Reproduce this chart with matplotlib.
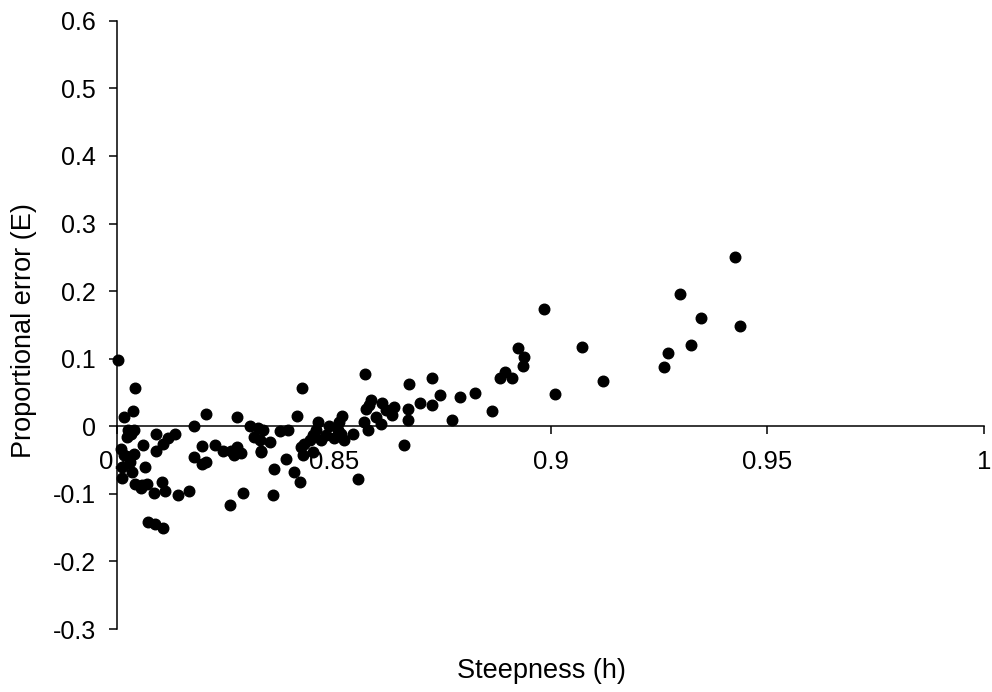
import matplotlib.pyplot as plt

plt.rcParams['font.family'] = ['Liberation Sans', 'DejaVu Sans']
plt.rcParams['axes.unicode_minus'] = False

# steepness (h) and proportional error (E)
steep = [0.8002, 0.8041, 0.8036, 0.8015, 0.8206, 0.8276, 0.8178, 0.8306, 0.8325,
         0.8026, 0.8040, 0.8022, 0.8033, 0.8089, 0.8133, 0.8118, 0.8106, 0.8059,
         0.8089, 0.8008, 0.8015, 0.8040, 0.8030, 0.8064, 0.8011, 0.8034, 0.8011,
         0.8041, 0.8057, 0.8068, 0.8055, 0.8103, 0.8086, 0.8110, 0.8141, 0.8166,
         0.8072, 0.8087, 0.8106, 0.8197, 0.8225, 0.8178, 0.8195, 0.8206, 0.8244,
         0.8262, 0.8277, 0.8270, 0.8287, 0.8290, 0.8260, 0.8316, 0.8331,
         0.8427, 0.8572, 0.8674, 0.8415, 0.8336, 0.8329, 0.8352, 0.8333, 0.8375,
         0.8394, 0.8390, 0.8363, 0.8409, 0.8421, 0.8359, 0.8463, 0.8459, 0.8451,
         0.8432, 0.8425, 0.8444, 0.8471, 0.8482, 0.8490, 0.8428, 0.8451, 0.8501,
         0.8517, 0.8520, 0.8513, 0.8524, 0.8509, 0.8545, 0.8555, 0.8570, 0.8578,
         0.8574, 0.8586, 0.8582, 0.8597, 0.8609, 0.8612, 0.8620, 0.8639, 0.8635,
         0.8670, 0.8671, 0.8662,
         0.8727, 0.8698, 0.8727, 0.8744, 0.8773, 0.8792, 0.8825, 0.8864, 0.8884,
         0.8896, 0.8911, 0.8926, 0.8938, 0.8936, 0.8984, 0.9011,
         0.9072, 0.9120, 0.9262, 0.9271, 0.9298, 0.9323, 0.9346, 0.9426, 0.9437]
error = [0.098, 0.057, 0.023, 0.014, 0.018, 0.013, 0.000, 0.000, -0.002,
         -0.006, -0.005, -0.016, -0.011, -0.012, -0.011, -0.018, -0.026, -0.027,
         -0.037, -0.033, -0.043, -0.041, -0.053, -0.061, -0.060, -0.068, -0.077,
         -0.086, -0.087, -0.085, -0.092, -0.083, -0.098, -0.096, -0.101, -0.096,
         -0.141, -0.144, -0.150, -0.029, -0.027, -0.046, -0.056, -0.053, -0.036,
         -0.037, -0.030, -0.043, -0.040, -0.099, -0.116, -0.016, -0.037,
         0.057, 0.077, 0.063, 0.015, -0.006, -0.021, -0.023, -0.038, -0.007,
         -0.006, -0.048, -0.063, -0.068, -0.083, -0.102, 0.006, -0.006, -0.013,
         -0.026, -0.031, -0.021, -0.021, -0.013, 0.000, -0.043, -0.038, -0.018,
         -0.011, 0.015, 0.006, -0.021, -0.006, -0.011, -0.078, 0.006, -0.006,
         0.026, 0.039, 0.031, 0.014, 0.004, 0.034, 0.024, 0.029, 0.016,
         0.026, 0.010, -0.027,
         0.072, 0.034, 0.031, 0.047, 0.009, 0.043, 0.049, 0.023, 0.071,
         0.080, 0.071, 0.116, 0.103, 0.089, 0.174, 0.048,
         0.117, 0.067, 0.087, 0.109, 0.196, 0.120, 0.160, 0.250, 0.148]

xticks = [0.8, 0.85, 0.9, 0.95, 1.0]
xlabels = ['0.8', '0.85', '0.9', '0.95', '1']
yticks = [-0.3, -0.2, -0.1, 0, 0.1, 0.2, 0.3, 0.4, 0.5, 0.6]
ylabels = ['-0.3', '-0.2', '-0.1', '0', '0.1', '0.2', '0.3', '0.4', '0.5', '0.6']

fig = plt.figure(figsize=(9.92, 6.92), dpi=100)
ax = fig.add_axes([0.118, 0.091, 0.874, 0.879])

ax.plot(steep, error, 'o', color='black', markersize=7.6, zorder=3, clip_on=False)

ax.set_xlim(0.8, 1.0)
ax.set_ylim(-0.3, 0.6)
ax.spines['top'].set_visible(False)
ax.spines['right'].set_visible(False)
ax.spines['bottom'].set_position(('data', 0))
for s in ['left', 'bottom']:
    ax.spines[s].set_linewidth(1.1)

ax.set_xticks(xticks)
ax.set_xticklabels(xlabels)
ax.set_yticks(yticks)
ax.set_yticklabels(ylabels)
ax.tick_params(axis='x', direction='out', length=6, width=1.1, pad=11, labelsize=18.5)
ax.tick_params(axis='y', direction='out', length=6, width=1.1, pad=9, labelsize=18)

ax.set_xlabel('Steepness (h)', fontsize=19.5)
ax.xaxis.set_label_coords(0.49, -0.048)
ax.set_ylabel('Proportional error (E)', fontsize=19.5)
ax.yaxis.set_label_coords(-0.092, 0.49)

fig.savefig('out.png', dpi=100)
